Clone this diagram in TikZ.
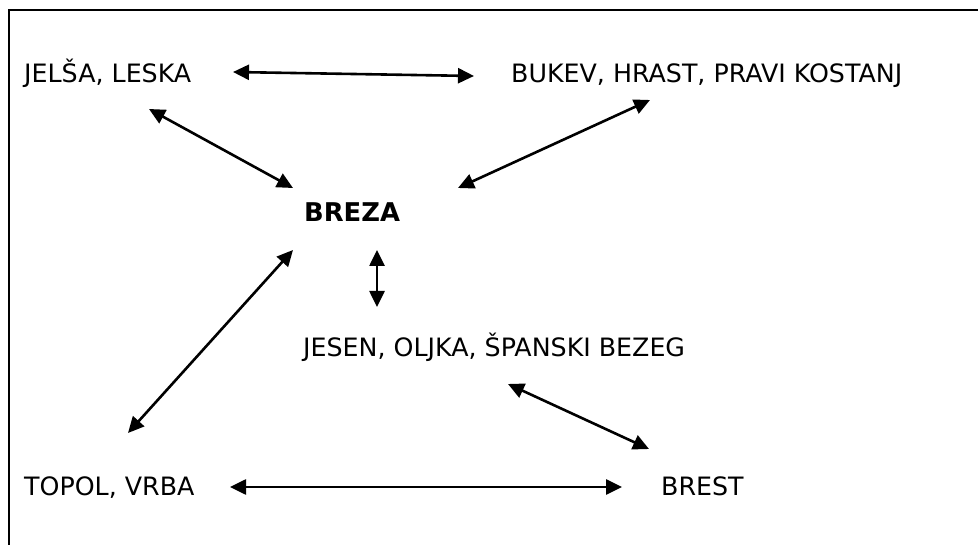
\documentclass[tikz,border=0pt]{standalone}
\usepackage{fontspec}
\setmainfont{DejaVu Sans}
\usetikzlibrary{arrows.meta,calc}

\tikzset{
  label/.style={inner sep=0pt, anchor=base west, font=\fontsize{25.3}{30}\selectfont},
  hub/.style={label, font=\fontsize{25.8}{30}\selectfont\bfseries},
  link/.style={line width=2.6pt, {Triangle[length=16pt,width=15pt]}-{Triangle[length=16pt,width=15pt]}},
  frame/.style={line width=2.6pt, line join=miter}
}

\begin{document}
\begin{tikzpicture}[x=1pt, y=-1pt]
  \useasboundingbox (0,0) rectangle (978,545);

  % open frame: left and top edges only
  \draw[frame] (9,545) -- (9,10) -- (978,10);

  % tree groups
  \node[label] (jelsa) at (24,83)  {JELŠA, LESKA};
  \node[label] (bukev) at (511,83) {BUKEV, HRAST, PRAVI KOSTANJ};
  \node[hub]   (breza) at (304,222) {BREZA};
  \node[label] (jesen) at (303,357) {JESEN, OLJKA, ŠPANSKI BEZEG};
  \node[label] (topol) at (24,495) {TOPOL, VRBA};
  \node[label] (brest) at (661,495) {BREST};

  % two-way relations
  \draw[link] ($(jelsa.base west)+(209,-11)$) -- ($(bukev.base west)+(-37,-7)$);
  \draw[link] ($(jelsa.base west)+(125,26)$)  -- ($(breza.base west)+(-11,-34)$);
  \draw[link] ($(bukev.base west)+(139,17)$)  -- ($(breza.base west)+(154,-34)$);
  \draw[link] ($(breza.base west)+(-11,28)$)  -- ($(topol.base west)+(104,-62)$);
  \draw[link] ($(breza.base west)+(73,28)$)   -- ($(jesen.base west)+(74,-50)$);
  \draw[link] ($(jesen.base west)+(205,27)$)  -- ($(brest.base west)+(-12,-46)$);
  \draw[link] ($(topol.base west)+(206,-8)$)  -- ($(brest.base west)+(-39,-8)$);
\end{tikzpicture}
\end{document}
